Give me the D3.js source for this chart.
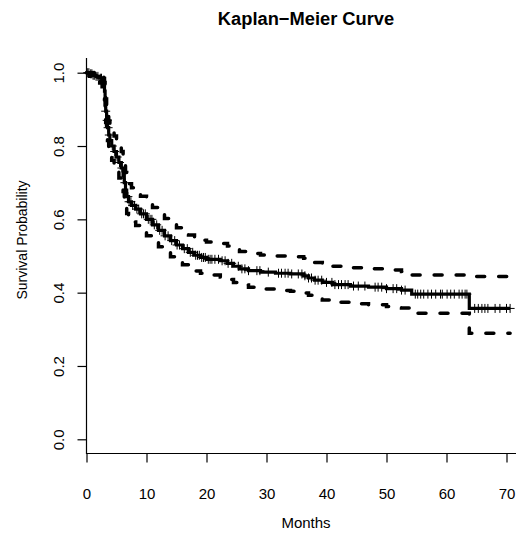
<!DOCTYPE html>
<html>
<head>
<meta charset="utf-8">
<script src="https://cdn.jsdelivr.net/npm/d3@7"></script>
<style>
  body { margin: 0; background: #fff; }
  svg text { font-family: "Liberation Sans", Arial, Helvetica, sans-serif; }
</style>
</head>
<body>
<div id="chart"></div>
<script>
// Kaplan-Meier curve, values

// event times (months) and the step values that start there
var evTime = [0, 0.5, 1.0, 1.6, 2.2, 2.6, 2.9, 3.0, 3.1, 3.2, 3.35, 3.5, 3.7, 3.9,
  4.2, 4.6, 5.0, 5.4, 5.8, 6.1, 6.3, 6.5, 6.7, 7.0, 7.5, 8.2, 9.0, 10.0, 11.0,
  12.0, 13.0, 14.0, 15.0, 16.0, 17.0, 18.0, 19.0, 20.0, 22.3, 23.5, 24.5, 25.5,
  27.0, 29.0, 31.5, 34.0, 36.2, 37.0, 38.0, 39.3, 41.0, 44.0, 47.0, 50.0, 52.5,
  54.2, 63.8];
var surv = [1, 0.997, 0.993, 0.99, 0.985, 0.978, 0.965, 0.95, 0.925, 0.895, 0.87,
  0.85, 0.83, 0.815, 0.80, 0.785, 0.77, 0.755, 0.74, 0.72, 0.70, 0.68, 0.662,
  0.648, 0.638, 0.628, 0.615, 0.60, 0.585, 0.57, 0.555, 0.542, 0.53, 0.52, 0.51,
  0.502, 0.496, 0.491, 0.487, 0.48, 0.472, 0.465, 0.46, 0.456, 0.453, 0.451,
  0.446, 0.44, 0.434, 0.428, 0.422, 0.418, 0.415, 0.411, 0.407, 0.396, 0.357];
var upper = [1, 1, 1, 1, 0.997, 0.993, 0.984, 0.973, 0.953, 0.928, 0.905, 0.887,
  0.868, 0.854, 0.841, 0.827, 0.813, 0.799, 0.785, 0.766, 0.747, 0.728, 0.711,
  0.697, 0.686, 0.676, 0.663, 0.647, 0.632, 0.617, 0.602, 0.589, 0.577, 0.567,
  0.557, 0.549, 0.543, 0.538, 0.534, 0.527, 0.519, 0.512, 0.507, 0.503, 0.500,
  0.498, 0.494, 0.488, 0.482, 0.477, 0.472, 0.468, 0.465, 0.462, 0.458, 0.448,
  0.444];
var lower = [1, 0.99, 0.984, 0.979, 0.972, 0.962, 0.946, 0.928, 0.898, 0.864,
  0.836, 0.815, 0.793, 0.777, 0.761, 0.745, 0.729, 0.713, 0.697, 0.676, 0.656,
  0.635, 0.616, 0.602, 0.593, 0.583, 0.570, 0.555, 0.540, 0.525, 0.511, 0.498,
  0.486, 0.476, 0.466, 0.459, 0.453, 0.448, 0.443, 0.436, 0.428, 0.421, 0.415,
  0.410, 0.406, 0.404, 0.399, 0.393, 0.386, 0.380, 0.374, 0.370, 0.367, 0.362,
  0.358, 0.344, 0.289];
var lastTime = 70.6;

// censored observations (months)
var censorTimes = [0.2, 0.4, 0.7, 0.9, 1.1, 1.3, 1.6, 1.9, 2.3, 2.5,
  3.2, 3.45, 3.6, 3.8, 4.3, 4.7, 5.1, 5.5, 5.9, 6.4, 6.9,
  7.1, 7.4, 7.7, 8.0, 8.4, 8.7, 9.2, 9.5, 9.8, 10.3, 10.6, 10.9, 11.3, 11.7,
  12.2, 12.6, 13.1, 13.6, 14.2, 14.7, 15.1, 15.5, 16.3, 16.8, 17.3, 17.7, 18.2,
  18.5, 18.8, 19.2, 19.5, 19.8, 20.3, 20.6, 20.9, 21.4, 22.0, 22.6, 23.1, 23.6,
  24.2, 25.3, 25.9, 26.4, 27.0, 28.4, 28.9, 30.3, 32.0, 32.5, 33.1, 33.6, 34.2,
  35.3, 35.9, 36.4, 37.0, 37.5, 38.1, 38.6, 39.2, 40.0, 40.9, 41.4, 42.0, 42.5,
  43.1, 43.6, 44.5, 45.3, 46.4, 48.1, 48.6, 49.2, 50.0, 51.1, 51.7, 52.5, 53.1,
  54.8, 55.2, 55.7, 56.2, 56.9, 57.5, 58.2, 59.0, 59.3, 60.1, 60.7, 61.3, 62.1,
  62.6, 63.1, 63.4, 64.7, 65.3, 65.9, 66.4, 66.9, 68.1, 68.9, 70.0, 70.6];

var xTicks = [0, 10, 20, 30, 40, 50, 60, 70];
var yTicks = [0, 0.2, 0.4, 0.6, 0.8, 1.0];

var W = 517, H = 535;

var svg = d3.select("#chart").append("svg")
    .attr("width", W)
    .attr("height", H);

var x = d3.scaleLinear().domain([0, 70]).range([86.5, 506.5]);
var y = d3.scaleLinear().domain([0, 1]).range([439.3, 72.7]);

var boxBottom = 453.5, boxTop = 58, boxRight = 516;

// L shaped box
svg.append("path")
    .attr("d", "M86.5," + boxTop + "V" + boxBottom + "H" + boxRight)
    .attr("fill", "none")
    .attr("stroke", "#000")
    .attr("stroke-width", 1.2);

// axes
var gx = svg.append("g")
    .attr("transform", "translate(0," + boxBottom + ")")
    .call(d3.axisBottom(x).tickValues(xTicks).tickSize(9)
        .tickFormat(d3.format("d")));
gx.select(".domain").remove();
gx.selectAll("line").attr("stroke-width", 1.2);
gx.selectAll("text").attr("font-size", 15).attr("fill", "#000")
    .attr("dy", "0").attr("y", 45);

var gy = svg.append("g")
    .attr("transform", "translate(86.5,0)")
    .call(d3.axisLeft(y).tickValues(yTicks).tickSize(9)
        .tickFormat(d3.format(".1f")));
gy.select(".domain").remove();
gy.selectAll("line").attr("stroke-width", 1.2);
gy.selectAll("text")
    .attr("font-size", 15).attr("fill", "#000")
    .attr("x", 0).attr("y", 0)
    .attr("text-anchor", "middle")
    .attr("transform", "translate(-28,0) rotate(-90)")
    .attr("dy", "0.35em");

// step lines
function steps(vals) {
  var pts = evTime.map(function(t, i) { return [t, vals[i]]; });
  pts.push([lastTime, vals[vals.length - 1]]);
  return pts;
}
var line = d3.line()
    .x(function(d) { return x(d[0]); })
    .y(function(d) { return y(d[1]); })
    .curve(d3.curveStepAfter);

[upper, lower].forEach(function(v) {
  svg.append("path")
      .attr("d", line(steps(v)))
      .attr("fill", "none")
      .attr("stroke", "#000")
      .attr("stroke-width", 3.5)
      .attr("stroke-linecap", "round")
      .attr("stroke-dasharray", "8 14");
});

svg.append("path")
    .attr("d", line(steps(surv)))
    .attr("fill", "none")
    .attr("stroke", "#000")
    .attr("stroke-width", 3.2);

// censor marks (+)
var bis = d3.bisector(function(d) { return d; }).right;
var marks = svg.append("g").attr("stroke", "#000").attr("stroke-width", 1);
censorTimes.forEach(function(t) {
  var i = Math.max(0, bis(evTime, t) - 1);
  var cx = x(t), cy = y(surv[i]), s = 4.5;
  marks.append("line").attr("x1", cx - s).attr("x2", cx + s)
      .attr("y1", cy).attr("y2", cy);
  marks.append("line").attr("x1", cx).attr("x2", cx)
      .attr("y1", cy - s).attr("y2", cy + s);
});

// titles
svg.append("text")
    .attr("x", 306).attr("y", 25)
    .attr("text-anchor", "middle")
    .attr("font-size", 18.3)
    .attr("font-weight", "bold")
    .text("Kaplan\u2212Meier Curve");

svg.append("text")
    .attr("x", 306).attr("y", 528)
    .attr("text-anchor", "middle")
    .attr("font-size", 15)
    .text("Months");

svg.append("text")
    .attr("transform", "translate(27,240) rotate(-90)")
    .attr("text-anchor", "middle")
    .attr("font-size", 14)
    .text("Survival Probability");
</script>
</body>
</html>
